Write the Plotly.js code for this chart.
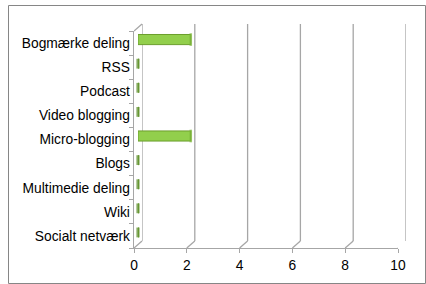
<!DOCTYPE html>
<html>
<head>
<meta charset="utf-8">
<script src="https://cdn.plot.ly/plotly-3.0.1.min.js"></script>
<style>html,body{margin:0;padding:0;background:#fff;}#chart{width:426px;height:284px;}</style>
</head>
<body>
<div id="chart"></div>
<script>
// Data (bottom to top)
const categories = ["Socialt netværk", "Wiki", "Multimedie deling", "Blogs", "Micro-blogging", "Video blogging", "Podcast", "RSS", "Bogmærke deling"];
const values = [0, 0, 0, 0, 2, 0, 0, 0, 2];
const xTicks = [0, 2, 4, 6, 8, 10];

const W = 426, H = 284;
const fx = p => p / W;
const fy = p => 1 - p / H;

const gridColor = '#a6a6a6';
const font = {family: 'Liberation Sans, Arial, sans-serif', size: 13.8, color: '#000'};

const capColors = values.map(v => v > 0 ? '#7ab536' : '#55891f');
const bars = {
  type: 'bar', orientation: 'h',
  x: values, y: categories, xaxis: 'x3', yaxis: 'y3',
  marker: {color: '#92cf4c', line: {color: '#6b9e2c', width: 1}},
  width: 0.42, hoverinfo: 'x+y', showlegend: false
};
const caps = {
  type: 'scatter', mode: 'markers', cliponaxis: false,
  x: values, y: categories, xaxis: 'x3', yaxis: 'y3',
  marker: {symbol: 'line-ns', size: values.map(v => v > 0 ? 9 : 7),
    color: capColors,
    line: {width: values.map(v => v > 0 ? 2.5 : 3.2), color: capColors}},
  hoverinfo: 'skip', showlegend: false
};

const shapes = [];
// back wall gridlines
xTicks.forEach(v => shapes.push({type: 'line', xref: 'x2', yref: 'y2 domain', x0: v, x1: v, y0: 0, y1: 1,
  line: {color: gridColor, width: 1.3}, layer: 'below'}));
// floor diagonals from front ticks to back gridlines
xTicks.forEach(v => shapes.push({type: 'line', xref: 'x', xsizemode: 'pixel', xanchor: v, x0: 0, x1: 8,
  yref: 'y domain', ysizemode: 'pixel', yanchor: 0, y0: 0, y1: 7,
  line: {color: gridColor, width: 1.3}, layer: 'below'}));
// top-left diagonal of wall
shapes.push({type: 'line', xref: 'x', xsizemode: 'pixel', xanchor: 0, x0: 0, x1: 8,
  yref: 'y domain', ysizemode: 'pixel', yanchor: 1, y0: 0, y1: 7,
  line: {color: gridColor, width: 1.3}, layer: 'below'});
// outer chart border
shapes.push({type: 'rect', xref: 'paper', yref: 'paper', x0: fx(8.5), x1: fx(425.5), y0: fy(283.5), y1: fy(5.5),
  line: {color: '#868686', width: 1}, fillcolor: 'rgba(0,0,0,0)'});

const layout = {
  width: W, height: H,
  margin: {l: 0, r: 0, t: 0, b: 0},
  paper_bgcolor: '#fff', plot_bgcolor: 'rgba(0,0,0,0)',
  font: font, showlegend: false,
  xaxis: {domain: [fx(134), fx(398)], range: [0, 10], tickvals: xTicks, anchor: 'y',
    showline: true, linecolor: gridColor, linewidth: 1.3, ticks: 'outside', ticklen: 4, tickcolor: gridColor,
    showgrid: false, zeroline: false, tickfont: font},
  yaxis: {domain: [fy(248), fy(31)], type: 'category', categoryorder: 'array', categoryarray: categories,
    range: [-0.5, categories.length - 0.5], anchor: 'x',
    showline: true, linecolor: gridColor, linewidth: 1.3, ticks: 'outside', ticklen: 4, tickcolor: gridColor,
    tickson: 'boundaries', showgrid: false, zeroline: false, tickfont: font},
  xaxis2: {domain: [fx(142), fx(406)], range: [0, 10], anchor: 'y2', visible: false},
  yaxis2: {domain: [fy(241), fy(24)], range: [0, 1], anchor: 'x2', visible: false},
  xaxis3: {domain: [fx(138), fx(402)], range: [0, 10], anchor: 'y3', visible: false},
  yaxis3: {domain: [fy(244.5), fy(27.5)], type: 'category', categoryorder: 'array', categoryarray: categories,
    range: [-0.5, categories.length - 0.5], anchor: 'x3', visible: false},
  shapes: shapes,
  bargap: 0.58
};

Plotly.newPlot('chart', [bars, caps], layout, {displayModeBar: false, staticPlot: true});
</script>
</body>
</html>
